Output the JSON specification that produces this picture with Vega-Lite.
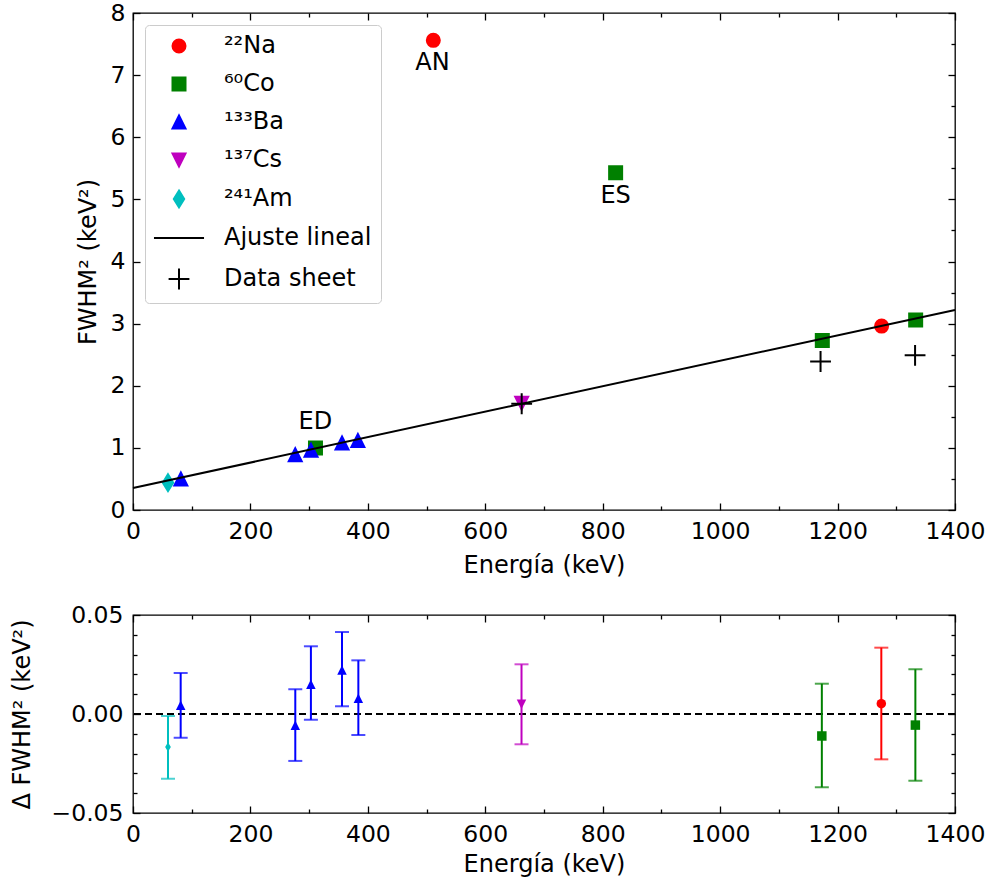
{
  "$schema": "https://vega.github.io/schema/vega-lite/v6.json",
  "padding": {"left": 10, "top": 0, "right": 5, "bottom": 5},
  "background": "white",
  "config": {
    "font": "DejaVu Sans",
    "view": {"stroke": "black", "strokeWidth": 1.3},
    "axis": {
      "labelFont": "DejaVu Sans", "labelFontSize": 23.5, "labelColor": "black",
      "titleFont": "DejaVu Sans", "titleFontSize": 24, "titleFontWeight": "normal", "titleColor": "black",
      "tickColor": "black", "tickWidth": 1.3, "domain": false, "grid": false,
      "labelFlush": false, "labelOverlap": false
    }
  },
  "vconcat": [
    {
      "width": 822, "height": 497,
      "layer": [
        {
          "data": {"values": [
            {"E": 511.5, "F": 7.56, "series": "²²Na"},
            {"E": 1275, "F": 2.96, "series": "²²Na"},
            {"E": 1174, "F": 2.73, "series": "⁶⁰Co"},
            {"E": 1333, "F": 3.06, "series": "⁶⁰Co"},
            {"E": 822, "F": 5.43, "series": "⁶⁰Co"},
            {"E": 310.8, "F": 1.0, "series": "⁶⁰Co"},
            {"E": 81.5, "F": 0.5, "series": "¹³³Ba"},
            {"E": 276.3, "F": 0.89, "series": "¹³³Ba"},
            {"E": 303.2, "F": 0.96, "series": "¹³³Ba"},
            {"E": 356, "F": 1.08, "series": "¹³³Ba"},
            {"E": 383, "F": 1.12, "series": "¹³³Ba"},
            {"E": 662, "F": 1.72, "series": "¹³⁷Cs"},
            {"E": 59.6, "F": 0.44, "series": "²⁴¹Am"}
          ]},
          "mark": {"type": "point", "filled": true, "size": 169, "strokeWidth": 2, "opacity": 1},
          "encoding": {
            "x": {"field": "E", "type": "quantitative", "scale": {"domain": [0, 1400], "nice": false, "zero": false},
              "axis": {"orient": "top", "values": [0,100,200,300,400,500,600,700,800,900,1000,1100,1200,1300,1400], "labels": false, "title": null,
                "tickSize": {"condition": {"test": "datum.value % 200 === 0", "value": -7}, "value": -4}}},
            "y": {"field": "F", "type": "quantitative", "scale": {"domain": [0, 8], "nice": false, "zero": false},
              "axis": {"orient": "right", "values": [0,0.5,1,1.5,2,2.5,3,3.5,4,4.5,5,5.5,6,6.5,7,7.5,8], "labels": false, "title": null,
                "tickSize": {"condition": {"test": "datum.value % 1 === 0", "value": -7}, "value": -4}}},
            "shape": {"field": "series", "type": "nominal",
              "scale": {"domain": ["²²Na", "⁶⁰Co", "¹³³Ba", "¹³⁷Cs", "²⁴¹Am", "Ajuste lineal", "Data sheet"],
                "range": ["circle", "square", "M0,-1L1,1L-1,1Z", "M0,1L1,-1L-1,-1Z", "M0,-1.3L0.8,0L0,1.3L-0.8,0Z", "M-3.85,0L3.85,0", "M-1.6,0L1.6,0M0,-1.6L0,1.6"]},
              "legend": {"orient": "top-left", "offset": 12, "title": null, "padding": 9, "strokeColor": "#cccccc", "fillColor": "white", "cornerRadius": 4,
                "symbolSize": 169, "symbolStrokeWidth": 2, "labelFont": "DejaVu Sans", "labelFontSize": 24, "labelColor": "black",
                "rowPadding": 14, "symbolOffset": 13, "labelOffset": 33}},
            "fill": {"field": "series", "type": "nominal",
              "scale": {"domain": ["²²Na", "⁶⁰Co", "¹³³Ba", "¹³⁷Cs", "²⁴¹Am", "Ajuste lineal", "Data sheet"],
                "range": ["#ff0000", "#008000", "#0000ff", "#bf00bf", "#00bfbf", "black", "black"]},
              "legend": {"orient": "top-left", "offset": 12, "title": null, "padding": 9, "strokeColor": "#cccccc", "fillColor": "white", "cornerRadius": 4,
                "symbolSize": 169, "symbolStrokeWidth": 2, "labelFont": "DejaVu Sans", "labelFontSize": 24, "labelColor": "black",
                "rowPadding": 14, "symbolOffset": 13, "labelOffset": 33}},
            "stroke": {"field": "series", "type": "nominal",
              "scale": {"domain": ["²²Na", "⁶⁰Co", "¹³³Ba", "¹³⁷Cs", "²⁴¹Am", "Ajuste lineal", "Data sheet"],
                "range": ["#ff0000", "#008000", "#0000ff", "#bf00bf", "#00bfbf", "black", "black"]},
              "legend": {"orient": "top-left", "offset": 12, "title": null, "padding": 9, "strokeColor": "#cccccc", "fillColor": "white", "cornerRadius": 4,
                "symbolSize": 169, "symbolStrokeWidth": 2, "labelFont": "DejaVu Sans", "labelFontSize": 24, "labelColor": "black",
                "rowPadding": 14, "symbolOffset": 13, "labelOffset": 33}}
          }
        },
        {
          "data": {"values": [{"E": 0, "F": 0.354}, {"E": 1400, "F": 3.22}]},
          "mark": {"type": "line", "color": "black", "strokeWidth": 2},
          "encoding": {
            "x": {"field": "E", "type": "quantitative",
              "axis": {"orient": "bottom", "values": [0,100,200,300,400,500,600,700,800,900,1000,1100,1200,1300,1400],
                "labelExpr": "datum.value % 200 === 0 ? datum.label : ''", "format": "d",
                "tickSize": {"condition": {"test": "datum.value % 200 === 0", "value": -7}, "value": -4},
                "labelPadding": 16, "title": "Energía (keV)", "titlePadding": 8}},
            "y": {"field": "F", "type": "quantitative",
              "axis": {"orient": "left", "values": [0,0.5,1,1.5,2,2.5,3,3.5,4,4.5,5,5.5,6,6.5,7,7.5,8],
                "labelExpr": "datum.value % 1 === 0 ? datum.label : ''", "format": "d",
                "tickSize": {"condition": {"test": "datum.value % 1 === 0", "value": -7}, "value": -4},
                "labelPadding": 15, "title": "FWHM² (keV²)", "titlePadding": 10}}
          }
        },
        {
          "data": {"values": [
            {"E": 1171, "F": 2.39, "series": "Data sheet"},
            {"E": 1332, "F": 2.49, "series": "Data sheet"},
            {"E": 662, "F": 1.71, "series": "Data sheet"}
          ]},
          "mark": {"type": "point", "filled": true, "size": 169, "strokeWidth": 2, "opacity": 1},
          "encoding": {
            "x": {"field": "E", "type": "quantitative", "axis": null},
            "y": {"field": "F", "type": "quantitative", "axis": null},
            "shape": {"field": "series", "type": "nominal"},
            "fill": {"field": "series", "type": "nominal"},
            "stroke": {"field": "series", "type": "nominal"}
          }
        },
        {
          "data": {"values": [
            {"E": 510, "F": 7.19, "label": "AN"},
            {"E": 822, "F": 5.05, "label": "ES"},
            {"E": 310.5, "F": 1.41, "label": "ED"}
          ]},
          "mark": {"type": "text", "font": "DejaVu Sans", "fontSize": 24, "color": "black", "align": "center", "baseline": "middle"},
          "encoding": {
            "x": {"field": "E", "type": "quantitative", "axis": null},
            "y": {"field": "F", "type": "quantitative", "axis": null},
            "text": {"field": "label"}
          }
        }
      ],
      "resolve": {"axis": {"x": "independent", "y": "independent"}}
    },
    {
      "width": 822, "height": 198,
      "layer": [
        {
          "data": {"values": [{}]},
          "mark": {"type": "rule", "color": "black", "strokeWidth": 2, "strokeDash": [7, 4]},
          "encoding": {"y": {"datum": 0, "type": "quantitative", "axis": null}}
        },
        {
          "data": {"name": "res"},
          "mark": {"type": "rule", "strokeWidth": 2},
          "encoding": {
            "x": {"field": "E", "type": "quantitative", "scale": {"domain": [0, 1400], "nice": false, "zero": false},
              "axis": {"orient": "bottom", "values": [0,100,200,300,400,500,600,700,800,900,1000,1100,1200,1300,1400],
                "labelExpr": "datum.value % 200 === 0 ? datum.label : ''", "format": "d",
                "tickSize": {"condition": {"test": "datum.value % 200 === 0", "value": -7}, "value": -4},
                "labelPadding": 16, "title": "Energía (keV)", "titlePadding": 4}},
            "y": {"field": "lo", "type": "quantitative", "scale": {"domain": [-0.05, 0.05], "nice": false, "zero": false},
              "axis": {"orient": "left", "values": [-0.05,-0.04,-0.03,-0.02,-0.01,0,0.01,0.02,0.03,0.04,0.05],
                "labelExpr": "abs(datum.value) < 1e-9 || abs(abs(datum.value) - 0.05) < 1e-9 ? datum.label : ''", "format": ".2f",
                "tickSize": {"condition": {"test": "abs(datum.value) < 1e-9 || abs(abs(datum.value) - 0.05) < 1e-9", "value": -7}, "value": -4},
                "labelPadding": 17, "title": "Δ FWHM² (keV²)", "titlePadding": 16}},
            "y2": {"field": "hi"},
            "color": {"field": "series", "type": "nominal",
              "scale": {"domain": ["²²Na", "⁶⁰Co", "¹³³Ba", "¹³⁷Cs", "²⁴¹Am"], "range": ["#ff0000", "#008000", "#0000ff", "#bf00bf", "#00bfbf"]},
              "legend": null}
          }
        },
        {
          "data": {"name": "res"},
          "mark": {"type": "tick", "orient": "horizontal", "size": 14, "thickness": 2},
          "encoding": {
            "x": {"field": "E", "type": "quantitative", "axis": null},
            "y": {"field": "hi", "type": "quantitative", "axis": null},
            "color": {"field": "series", "type": "nominal", "legend": null}
          }
        },
        {
          "data": {"name": "res"},
          "mark": {"type": "tick", "orient": "horizontal", "size": 14, "thickness": 2},
          "encoding": {
            "x": {"field": "E", "type": "quantitative", "axis": null},
            "y": {"field": "lo", "type": "quantitative", "axis": null},
            "color": {"field": "series", "type": "nominal", "legend": null}
          }
        },
        {
          "data": {"name": "res"},
          "mark": {"type": "point", "filled": true, "size": 90, "strokeWidth": 0, "opacity": 1},
          "encoding": {
            "x": {"field": "E", "type": "quantitative",
              "axis": {"orient": "top", "values": [0,100,200,300,400,500,600,700,800,900,1000,1100,1200,1300,1400], "labels": false, "title": null,
                "tickSize": {"condition": {"test": "datum.value % 200 === 0", "value": -7}, "value": -4}}},
            "y": {"field": "res", "type": "quantitative",
              "axis": {"orient": "right", "values": [-0.05,-0.04,-0.03,-0.02,-0.01,0,0.01,0.02,0.03,0.04,0.05], "labels": false, "title": null,
                "tickSize": {"condition": {"test": "abs(datum.value) < 1e-9 || abs(abs(datum.value) - 0.05) < 1e-9", "value": -7}, "value": -4}}},
            "color": {"field": "series", "type": "nominal", "legend": null},
            "shape": {"field": "series", "type": "nominal",
              "scale": {"domain": ["²²Na", "⁶⁰Co", "¹³³Ba", "¹³⁷Cs", "²⁴¹Am"],
                "range": ["circle", "square", "M0,-1L1,1L-1,1Z", "M0,1L1,-1L-1,-1Z", "M0,-1L0.6,0L0,1L-0.6,0Z"]},
              "legend": null}
          }
        }
      ],
      "resolve": {"axis": {"x": "independent", "y": "independent"}}
    }
  ],
  "spacing": 105,
  "bounds": "flush",
  "resolve": {"scale": {"shape": "independent", "color": "independent", "fill": "independent", "stroke": "independent"},
              "legend": {"shape": "independent", "color": "independent", "fill": "independent", "stroke": "independent"}},
  "datasets": {
    "res": [
      {"E": 59.6, "res": -0.0167, "lo": -0.0327, "hi": -0.001, "series": "²⁴¹Am"},
      {"E": 81.2, "res": 0.0044, "lo": -0.012, "hi": 0.0207, "series": "¹³³Ba"},
      {"E": 276.4, "res": -0.0057, "lo": -0.0237, "hi": 0.0125, "series": "¹³³Ba"},
      {"E": 303, "res": 0.015, "lo": -0.0029, "hi": 0.0342, "series": "¹³³Ba"},
      {"E": 356, "res": 0.0222, "lo": 0.0039, "hi": 0.0414, "series": "¹³³Ba"},
      {"E": 383.8, "res": 0.0079, "lo": -0.0106, "hi": 0.0271, "series": "¹³³Ba"},
      {"E": 661.7, "res": 0.0049, "lo": -0.0153, "hi": 0.0251, "series": "¹³⁷Cs"},
      {"E": 1173.2, "res": -0.0111, "lo": -0.037, "hi": 0.0153, "series": "⁶⁰Co"},
      {"E": 1274.5, "res": 0.0052, "lo": -0.0229, "hi": 0.0335, "series": "²²Na"},
      {"E": 1332.5, "res": -0.0056, "lo": -0.0337, "hi": 0.0226, "series": "⁶⁰Co"}
    ]
  }
}
